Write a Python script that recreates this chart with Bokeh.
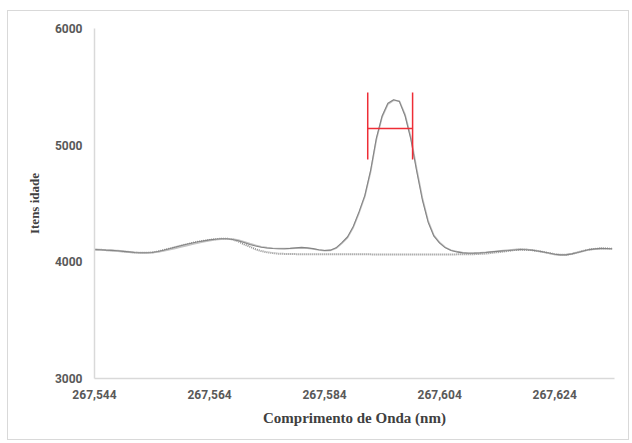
from bokeh.plotting import figure
from bokeh.models import FixedTicker, CustomJSTickFormatter, Range1d
from bokeh.embed import file_html
from bokeh.resources import INLINE

# wavelength grid (nm), 0.001 nm step
wavelength = [round(267.544 + 0.001 * i, 3) for i in range(91)]

# measured spectrum (two overlapping runs)
spectrum_a = [4105, 4104, 4100, 4098, 4095, 4090, 4085, 4080, 4078, 4078,
              4080, 4088, 4100, 4112, 4125, 4138, 4150, 4162, 4172, 4180,
              4188, 4194, 4198, 4198, 4192, 4180, 4165, 4148, 4135, 4125,
              4118, 4114, 4112, 4112, 4115, 4120, 4124, 4120, 4113, 4104,
              4097, 4100, 4120, 4165, 4215, 4305, 4430, 4570, 4783, 5060,
              5250, 5360, 5390, 5375, 5250, 5050, 4780, 4530, 4340, 4220,
              4160, 4120, 4097, 4085, 4077, 4074, 4075, 4077, 4080, 4085,
              4090, 4094, 4097, 4101, 4105, 4104, 4100, 4093, 4085, 4075,
              4065, 4060, 4060, 4068, 4080, 4093, 4105, 4111, 4115, 4114,
              4112]
spectrum_b = [4106, 4103, 4099, 4096, 4092, 4087, 4082, 4078, 4076, 4076,
              4078, 4084, 4094, 4104, 4115, 4127, 4139, 4151, 4162, 4172,
              4181, 4189, 4195, 4198, 4195, 4186, 4172, 4156, 4142, 4130,
              4122, 4117, 4114, 4113, 4114, 4117, 4119, 4116, 4110, 4102,
              4096, 4098, 4116, 4158, 4208, 4296, 4420, 4560, 4770, 5045,
              5240, 5350, 5385, 5378, 5262, 5068, 4800, 4548, 4352, 4228,
              4166, 4124, 4100, 4088, 4080, 4076, 4076, 4078, 4081, 4086,
              4091, 4096, 4101, 4106, 4110, 4108, 4102, 4094, 4084, 4073,
              4064, 4060, 4062, 4070, 4082, 4095, 4104, 4108, 4110, 4110,
              4110]
# baseline (dotted)
baseline = [4105, 4104, 4100, 4098, 4095, 4090, 4085, 4080, 4078, 4078,
            4080, 4088, 4100, 4112, 4125, 4138, 4150, 4162, 4172, 4180,
            4188, 4194, 4198, 4198, 4192, 4175, 4150, 4130, 4108, 4092,
            4082, 4075, 4070, 4068, 4067, 4066, 4066, 4066, 4066, 4065,
            4065, 4065, 4065, 4065, 4064, 4064, 4064, 4064, 4064, 4063,
            4063, 4063, 4063, 4063, 4063, 4063, 4063, 4063, 4063, 4063,
            4063, 4063, 4063, 4064, 4064, 4065, 4066, 4068, 4071, 4076,
            4082, 4088, 4094, 4101, 4105, 4104, 4100, 4093, 4085, 4075,
            4065, 4060, 4060, 4068, 4080, 4093, 4105, 4111, 4115, 4114,
            4112]

# FWHM marker
fwhm_left = 267.5915
fwhm_right = 267.5993
fwhm_level = 5142
marker_low = 4877
marker_high = 5451

x_ticks = [267.544, 267.564, 267.584, 267.604, 267.624]
y_ticks = [3000, 4000, 5000, 6000]

p = figure(width=622, height=430, output_backend="svg", toolbar_location=None,
           x_range=Range1d(267.544, 267.6344), y_range=Range1d(3000, 6000),
           min_border_left=86, min_border_right=16, min_border_top=17,
           min_border_bottom=63)
p.styles = {"border": "1px solid #d9d9d9", "margin-left": "7px", "margin-top": "10px"}
p.outline_line_color = None
p.xgrid.visible = False
p.ygrid.visible = False

p.line(wavelength, baseline, line_color="#8c8c8c", line_width=2, line_dash="1 1")
p.line(wavelength, spectrum_b, line_color="#c4c4c4", line_width=1.6)
p.line(wavelength, spectrum_a, line_color="#858585", line_width=1.1)

p.segment(x0=[fwhm_left, fwhm_right, fwhm_left], y0=[marker_low, marker_low, fwhm_level],
          x1=[fwhm_left, fwhm_right, fwhm_right], y1=[marker_high, marker_high, fwhm_level],
          line_color="#ee2d36", line_width=1.5)

tick_font = "Liberation Sans Narrow, Roboto, sans-serif"
for ax in (p.xaxis[0], p.yaxis[0]):
    ax.axis_line_color = "#d9d9d9"
    ax.axis_line_width = 1.5
    ax.major_tick_line_color = None
    ax.minor_tick_line_color = None
    ax.major_tick_out = 0
    ax.major_tick_in = 0
    ax.minor_tick_out = 0
    ax.minor_tick_in = 0
    ax.major_label_text_font = tick_font
    ax.major_label_text_font_style = "bold"
    ax.major_label_text_font_size = "12px"
    ax.major_label_text_color = "#595959"
    ax.axis_label_text_font = "Liberation Serif"
    ax.axis_label_text_font_style = "bold"
    ax.axis_label_text_color = "#404040"

p.xaxis.ticker = FixedTicker(ticks=x_ticks)
p.yaxis.ticker = FixedTicker(ticks=y_ticks)
p.xaxis.formatter = CustomJSTickFormatter(code="return tick.toFixed(3).replace('.', ',');")
p.xaxis.major_label_standoff = 11
p.yaxis.major_label_standoff = 12
p.xaxis.axis_label = "Comprimento de Onda (nm)"
p.yaxis.axis_label = "Itens idade"
p.xaxis.axis_label_text_font_size = "15px"
p.yaxis.axis_label_text_font_size = "13px"
p.xaxis.axis_label_standoff = 8
p.yaxis.axis_label_standoff = 10

open("out.html", "w").write(file_html(p, INLINE))
